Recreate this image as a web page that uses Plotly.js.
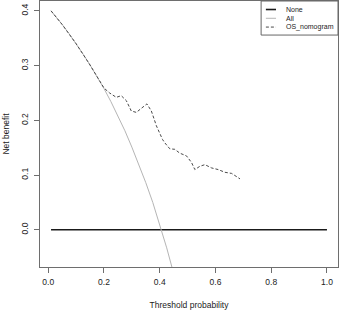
<!DOCTYPE html>
<html>
<head>
<meta charset="utf-8">
<script src="https://cdn.plot.ly/plotly-3.0.1.min.js"></script>
<style>html,body{margin:0;padding:0;background:#fff;}#chart{width:339px;height:310px;}</style>
</head>
<body>
<div id="chart"></div>
<script>
// Series names
const seriesNames = ["None", "All", "OS_nomogram"];

// "None" strategy
const noneX = [0.01, 1.0];
const noneY = [0, 0];

// "All" strategy
const allX = [0.01, 0.025, 0.05, 0.075, 0.1, 0.125, 0.15, 0.175, 0.2, 0.225, 0.25, 0.275, 0.3, 0.325, 0.35, 0.375, 0.4, 0.425, 0.45];
const allY = [0.400, 0.391, 0.375, 0.358, 0.340, 0.321, 0.301, 0.280, 0.258, 0.234, 0.208, 0.181, 0.151, 0.120, 0.086, 0.050, 0.010, -0.033, -0.080];

// OS_nomogram net benefit
const nomoX = [0.01, 0.05, 0.1, 0.15, 0.2, 0.22, 0.244, 0.262, 0.28, 0.298, 0.316, 0.34, 0.354, 0.37, 0.388, 0.41, 0.418, 0.436, 0.454, 0.472, 0.496, 0.514, 0.526, 0.544, 0.562, 0.586, 0.61, 0.634, 0.658, 0.688];
const nomoY = [0.400, 0.375, 0.340, 0.301, 0.259, 0.250, 0.242, 0.245, 0.236, 0.217, 0.2145, 0.224, 0.230, 0.217, 0.190, 0.165, 0.159, 0.148, 0.147, 0.140, 0.135, 0.123, 0.110, 0.116, 0.119, 0.113, 0.110, 0.105, 0.103, 0.093];

// Tick labels
const xTicks = [0.0, 0.2, 0.4, 0.6, 0.8, 1.0];
const xTickText = ["0.0", "0.2", "0.4", "0.6", "0.8", "1.0"];
const yTicks = [0.0, 0.1, 0.2, 0.3, 0.4];
const yTickText = ["0.0", "0.1", "0.2", "0.3", "0.4"];

const FONT = "Liberation Sans, Arial, sans-serif";
const styles = [
  {color: "#1a1a1a", width: 1.6, dash: "solid"},
  {color: "#b5b5b5", width: 1, dash: "solid"},
  {color: "#4a4a4a", width: 1, dash: "3px,2px"}
];

const traces = [
  {x: noneX, y: noneY, name: seriesNames[0], mode: "lines", line: styles[0], showlegend: false},
  {x: allX, y: allY, name: seriesNames[1], mode: "lines", line: styles[1], showlegend: false},
  {x: nomoX, y: nomoY, name: seriesNames[2], mode: "lines", line: styles[2], showlegend: false}
];

// custom compact legend (R-style)
const legX0 = 0.742, legX1 = 1.0, legY0 = 0.872, legY1 = 1.0;
const entryY = [0.968, 0.935, 0.902];
const shapes = [{type: "rect", xref: "paper", yref: "paper", x0: legX0, x1: legX1, y0: legY0, y1: legY1,
  line: {color: "#666", width: 1}, fillcolor: "#fff"}];
const annotations = [];
seriesNames.forEach((n, i) => {
  shapes.push({type: "line", xref: "paper", yref: "paper", x0: 0.758, x1: 0.792, y0: entryY[i], y1: entryY[i], line: styles[i]});
  annotations.push({xref: "paper", yref: "paper", x: 0.82, y: entryY[i], text: n, showarrow: false,
    xanchor: "left", yanchor: "middle", font: {family: FONT, size: 7, color: "#222"}});
});

const axisCommon = {
  showgrid: false, zeroline: false, showline: true, mirror: true, linecolor: "#6e6e6e", linewidth: 1,
  ticks: "outside", ticklen: 5, tickcolor: "#6e6e6e", tickwidth: 1,
  tickfont: {family: FONT, size: 8.5, color: "#222"}
};

const layout = {
  width: 339, height: 310,
  margin: {l: 40, r: 1, t: 1, b: 43},
  paper_bgcolor: "#fff", plot_bgcolor: "#fff",
  showlegend: false,
  xaxis: Object.assign({}, axisCommon, {
    range: [-0.0296, 1.0396], tickvals: xTicks, ticktext: xTickText, ticklabelstandoff: 2,
    title: {text: "Threshold probability", font: {family: FONT, size: 8.5, color: "#222"}, standoff: 17}
  }),
  yaxis: Object.assign({}, axisCommon, {
    range: [-0.068, 0.418], tickvals: yTicks, ticktext: yTickText, tickangle: -90, ticklabelstandoff: 3,
    title: {text: "Net benefit", font: {family: FONT, size: 8.5, color: "#222"}, standoff: 8}
  }),
  shapes: shapes,
  annotations: annotations
};

Plotly.newPlot("chart", traces, layout, {displayModeBar: false, staticPlot: true});
</script>
</body>
</html>
